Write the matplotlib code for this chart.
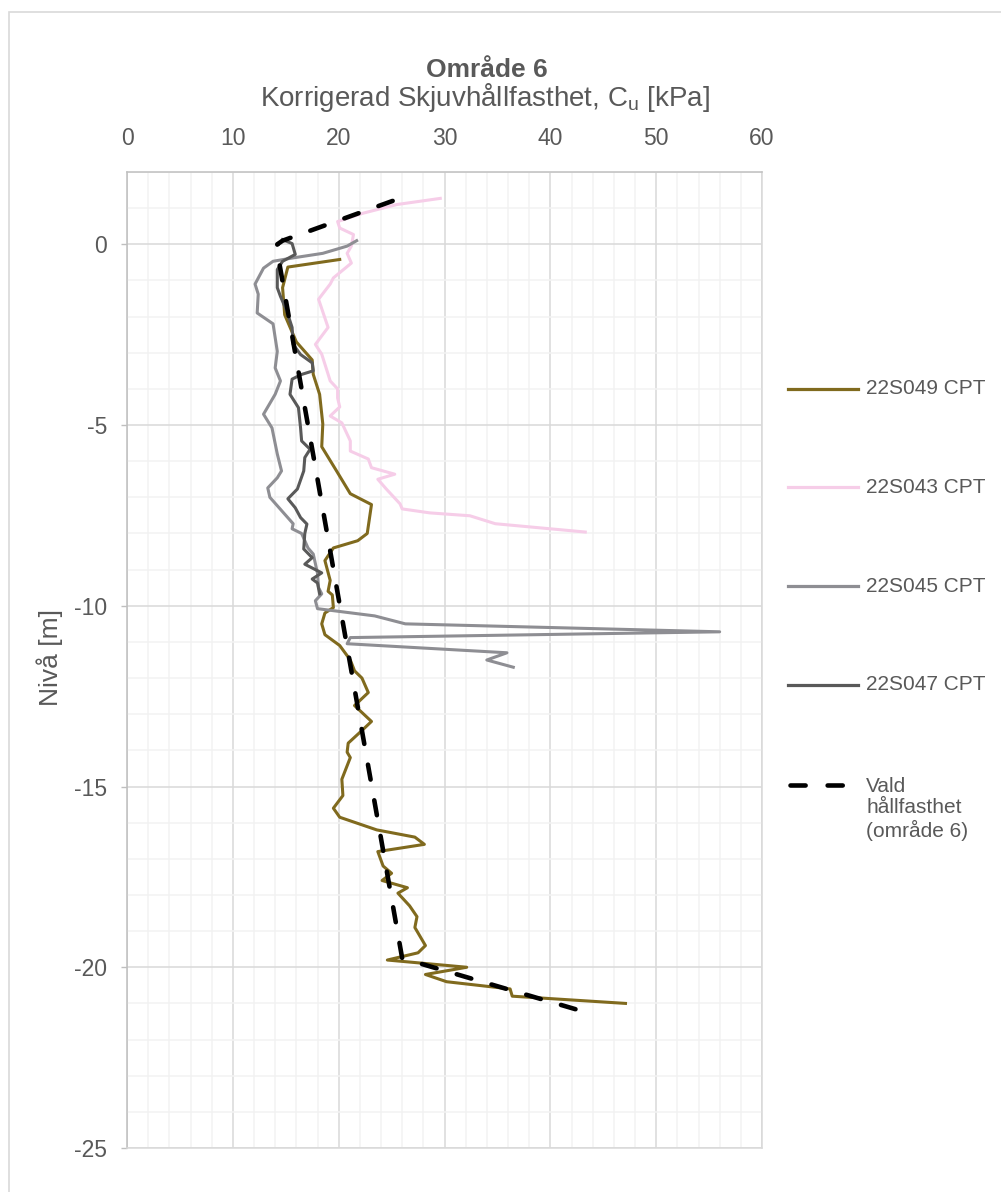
import matplotlib
matplotlib.use('Agg')
import matplotlib.pyplot as plt
from matplotlib.lines import Line2D
from matplotlib.patches import Rectangle
from matplotlib.ticker import MultipleLocator

plt.rcParams['font.family'] = ['Liberation Sans', 'DejaVu Sans']
plt.rcParams['axes.unicode_minus'] = False

# ---------------- data ----------------
s049_x = [20.1, 15.2, 14.7, 14.9, 16.0, 17.5, 17.6, 18.2, 18.5, 18.4, 19.8, 21.1, 23.1, 22.7, 21.8,
          19.5, 18.7, 19.2, 19.0, 19.4, 19.5, 18.7, 18.4, 18.7, 20.1, 21.1, 21.5, 22.2, 22.8, 21.5,
          23.1, 22.2, 20.9, 20.8, 21.1, 20.3, 20.4, 19.5, 20.1, 23.6, 27.2, 28.1, 23.7, 24.2, 25.0,
          24.1, 26.5, 25.6, 26.7, 27.4, 27.2, 28.2, 27.5, 24.6, 32.1, 28.2, 30.2, 36.2, 36.4, 47.1]
s049_y = [-0.42, -0.63, -1.2, -1.95, -2.7, -3.2, -3.6, -4.15, -4.97, -5.6, -6.27, -6.9, -7.2, -8.0, -8.2,
          -8.4, -8.75, -9.3, -9.6, -9.7, -10.05, -10.2, -10.5, -10.8, -11.1, -11.5, -11.8, -12.0, -12.4, -12.76,
          -13.2, -13.45, -13.8, -14.05, -14.2, -14.8, -15.25, -15.6, -15.85, -16.2, -16.4, -16.6, -16.8, -17.2, -17.4,
          -17.6, -17.8, -17.95, -18.3, -18.6, -18.9, -19.4, -19.6, -19.8, -20.0, -20.2, -20.4, -20.6, -20.8, -21.0]

s043_x = [29.6, 25.5, 22.3, 19.9, 20.1, 21.4, 21.2, 20.8, 21.2, 19.5, 19.2, 18.1, 19.0, 17.8, 18.4,
          18.9, 19.2, 19.9, 19.9, 20.1, 19.2, 20.3, 21.1, 21.1, 22.8, 23.1, 25.3, 23.7, 24.5, 25.8,
          26.0, 28.6, 32.4, 34.8, 43.3]
s043_y = [1.27, 1.1, 0.86, 0.63, 0.45, 0.27, -0.05, -0.25, -0.52, -0.93, -1.1, -1.52, -2.3, -2.77, -3.04,
          -3.5, -3.78, -4.0, -4.25, -4.5, -4.75, -4.94, -5.44, -5.72, -5.94, -6.18, -6.36, -6.5, -6.77, -7.18,
          -7.32, -7.43, -7.51, -7.73, -7.96]

s045_x = [21.7, 20.8, 18.5, 15.6, 13.8, 12.9, 12.1, 12.4, 12.3, 13.8, 14.2, 14.0, 14.5, 14.0, 12.9,
          13.7, 14.2, 14.6, 14.2, 13.3, 13.5, 15.7, 15.6, 16.5, 17.1, 17.6, 18.0, 18.1, 18.4, 17.8,
          18.0, 23.4, 26.3, 56.0, 21.1, 20.8, 35.9, 34.0, 36.5]
s045_y = [0.1, -0.05, -0.25, -0.38, -0.47, -0.66, -1.1, -1.38, -1.9, -2.2, -2.96, -3.42, -3.78, -4.15, -4.7,
          -5.08, -5.8, -6.27, -6.46, -6.74, -7.0, -7.73, -7.87, -8.0, -8.4, -8.57, -9.1, -9.5, -9.67, -9.86,
          -10.08, -10.28, -10.5, -10.72, -10.88, -11.05, -11.3, -11.5, -11.7]

s047_x = [14.7, 15.6, 15.9, 14.7, 14.2, 14.2, 14.5, 15.1, 15.6, 15.7, 16.4, 17.5, 17.6, 16.5, 15.6,
          15.4, 16.2, 16.4, 16.5, 17.3, 16.8, 16.7, 16.1, 15.2, 15.9, 16.4, 17.0, 16.8, 16.7, 17.5,
          16.8, 18.4, 17.5, 18.0, 18.2]
s047_y = [0.13, 0.02, -0.28, -0.47, -0.7, -1.2, -1.44, -1.85, -2.3, -2.77, -3.05, -3.28, -3.5, -3.6, -3.73,
          -4.15, -4.52, -5.08, -5.44, -5.67, -5.9, -6.27, -6.77, -7.04, -7.29, -7.56, -7.74, -8.0, -8.43, -8.67,
          -8.85, -9.09, -9.26, -9.37, -9.67]

vald_x = [25.1, 14.7, 14.2, 14.2, 26.0, 44.0]
vald_y = [1.2, 0.1, 0.0, -0.2, -19.75, -21.3]

series_labels = ['22S049 CPT', '22S043 CPT', '22S045 CPT', '22S047 CPT',
                 'Vald\nhållfasthet\n(område 6)']
colors = ['#806A1E', '#F6CDE8', '#8E8E93', '#595959', '#000000']

x_ticks = [0, 10, 20, 30, 40, 50, 60]
y_ticks = [-25, -20, -15, -10, -5, 0]

# ---------------- figure ----------------
W, H = 1001, 1192
fig = plt.figure(figsize=(W / 100, H / 100), dpi=100)


def fx(px):
    return px / W


def fy(py):
    return 1 - py / H


TXT = '#595959'

# chart border
fig.add_artist(Rectangle((fx(9), fy(1300)), fx(1100) - fx(9), fy(12) - fy(1300),
                         transform=fig.transFigure, fill=False, ec='#D9D9D9', lw=1.2))

ax = fig.add_axes([fx(127), fy(1148), fx(762) - fx(127), fy(172) - fy(1148)])
ax.set_xlim(0, 60)
ax.set_ylim(-25, 2)
ax.set_xticks(x_ticks)
ax.set_yticks(y_ticks)
ax.xaxis.set_minor_locator(MultipleLocator(2))
ax.yaxis.set_minor_locator(MultipleLocator(1))
ax.grid(which='minor', color='#F2F2F2', lw=1.1)
ax.grid(which='major', color='#D9D9D9', lw=1.1)
ax.set_axisbelow(True)
ax.xaxis.tick_top()
ax.tick_params(axis='x', which='both', length=0, pad=16, labelsize=16.5, labelcolor=TXT)
ax.tick_params(axis='y', which='major', length=4.3, width=1, color='#BFBFBF', pad=10,
               labelsize=16.5, labelcolor=TXT)
ax.tick_params(axis='y', which='minor', length=0)
for s in ['left', 'top']:
    ax.spines[s].set_color('#BFBFBF')
    ax.spines[s].set_linewidth(1.1)
for s in ['bottom', 'right']:
    ax.spines[s].set_color('#D9D9D9')
    ax.spines[s].set_linewidth(1.1)

lw = 2.2
ax.plot(s049_x, s049_y, color=colors[0], lw=lw, solid_joinstyle='round')
ax.plot(s043_x, s043_y, color=colors[1], lw=lw, solid_joinstyle='round')
ax.plot(s045_x, s045_y, color=colors[2], lw=lw, solid_joinstyle='round')
ax.plot(s047_x, s047_y, color=colors[3], lw=lw, solid_joinstyle='round')
ax.plot(vald_x, vald_y, color=colors[4], lw=3.3, dashes=(3.3, 4.6),
        dash_capstyle='round', solid_joinstyle='round')

# titles
fig.text(fx(487), fy(70), 'Område 6', ha='center', va='center', fontsize=19,
         fontweight='bold', color=TXT)
fig.text(fx(485), fy(97), 'Korrigerad Skjuvhållfasthet, C$_\\mathregular{u}$ [kPa]',
         ha='center', va='center', fontsize=20, color=TXT)
fig.text(fx(50), fy(658), 'Nivå [m]', rotation=90, ha='center', va='center',
         fontsize=19, color=TXT)

# legend (manual)
leg_y = [389, 487, 586, 685, 785]
for i, (lab, c, yy) in enumerate(zip(series_labels, colors, leg_y)):
    if i < 4:
        fig.add_artist(Line2D([fx(788), fx(858)], [fy(yy), fy(yy)], color=c, lw=2.3,
                              transform=fig.transFigure))
        fig.text(fx(866), fy(yy), lab, ha='left', va='center', fontsize=15, color=TXT)
    else:
        fig.add_artist(Line2D([fx(790), fx(845)], [fy(yy), fy(yy)], color=c, lw=3.3,
                              dashes=(3.3, 4.8), dash_capstyle='round',
                              transform=fig.transFigure))
        fig.text(fx(866), fy(yy - 8), lab, ha='left', va='top', fontsize=15,
                 color=TXT, linespacing=1.15)

fig.savefig('out.png', dpi=100)
